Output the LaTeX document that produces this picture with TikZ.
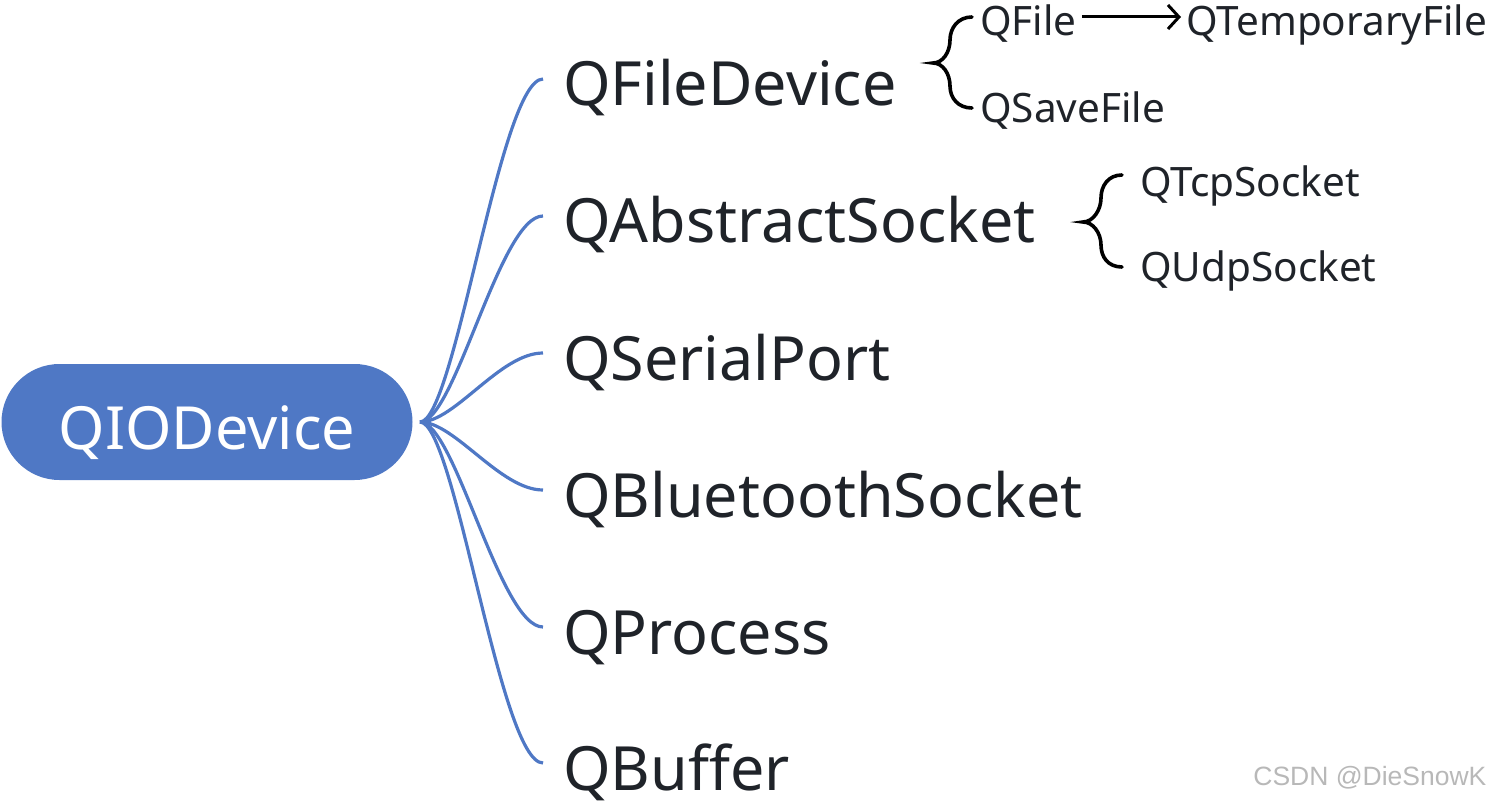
\documentclass[tikz,border=0pt]{standalone}
\usepackage{fontspec}
\setmainfont{Noto Sans}
\newfontfamily\markfont{Liberation Sans}
\usetikzlibrary{arrows.meta}
\usetikzlibrary{positioning, shapes.misc}
\definecolor{mindblue}{HTML}{4F78C5}
\definecolor{mindtext}{HTML}{1F2329}
\tikzset{
root/.style = { rounded rectangle, fill = mindblue, text = white, minimum width = 411pt, minimum height = 116pt, inner sep = 0pt, text height = 54pt, text depth = 0pt, font = \fontsize{59.5}{70}\selectfont },
child/.style = { anchor = west, text = mindtext, inner sep = 0pt, text height = 44pt, text depth = 0pt, font = \fontsize{61}{72}\selectfont },
leaf/.style = { anchor = west, text = mindtext, inner sep = 0pt, text height = 29pt, text depth = 0pt, font = \fontsize{40.5}{48}\selectfont },
branch/.style = { draw = mindblue, line width = 3.2pt },
brace/.style = { draw = black, line width = 3.6pt, line cap = round },
}

\begin{document}
\begin{tikzpicture}[x = 1pt, y = -1pt]
    \useasboundingbox (0, 0) rectangle (1494, 805);
    % root and the point where the branches meet
    \node[root] (qio) at (207, 422) {QIODevice};
    \coordinate (hub) at (420, 422);
    % subclasses
    \node[child] (filedev) at (563, 84) {QFileDevice};
    \node[child] (abssock) at (563, 221) {QAbstractSocket};
    \node[child] (serial) at (563, 358) {QSerialPort};
    \node[child] (bluetooth) at (563, 495) {QBluetoothSocket};
    \node[child] (process) at (563, 632) {QProcess};
    \node[child] (buffer) at (563, 768) {QBuffer};
    \foreach \n in {filedev, abssock, serial, bluetooth, process, buffer}
        \draw[branch] (hub) .. controls +(35, 0) and +(-43, 0) .. ([xshift = -20pt, yshift = 5pt]\n.west);
    % QFileDevice children
    \node[leaf] (qfile) at (980, 21) {QFile};
    \node[leaf] (tempfile) at (1186, 21) {QTemporaryFile};
    \node[leaf] (savefile) at (980, 108) {QSaveFile};
    \draw[-{Straight Barb[length = 11pt, width = 24pt]}, line width = 3pt] ([xshift = 5pt, yshift = 4pt]qfile.east) -- ([xshift = -5pt, yshift = 4pt]tempfile.west);
    \draw[brace] ([xshift = -8pt, yshift = 4pt]qfile.west) .. controls +(-14, 0) and +(0, -12) .. (950, 40)
        .. controls +(0, 12) and +(10, 0) .. (933, 63)
        .. controls +(10, 0) and +(0, -12) .. (950, 86)
        .. controls +(0, 12) and +(-14, 0) .. ([xshift = -8pt]savefile.west);
    % QAbstractSocket children
    \node[leaf] (tcp) at (1140, 182) {QTcpSocket};
    \node[leaf] (udp) at (1140, 267) {QUdpSocket};
    \draw[brace] ([xshift = -18pt, yshift = 7pt]tcp.west) .. controls +(-14, 0) and +(0, -12) .. (1101, 198)
        .. controls +(0, 12) and +(10, 0) .. (1083, 222)
        .. controls +(10, 0) and +(0, -12) .. (1101, 245)
        .. controls +(0, 12) and +(-14, 0) .. ([xshift = -18pt]udp.west);
    % watermark
    \node[anchor = east, text = black!28, font = \markfont\fontsize{26.5}{31}\selectfont] (mark) at (1490, 778) {CSDN @DieSnowK};
\end{tikzpicture}
\end{document}
